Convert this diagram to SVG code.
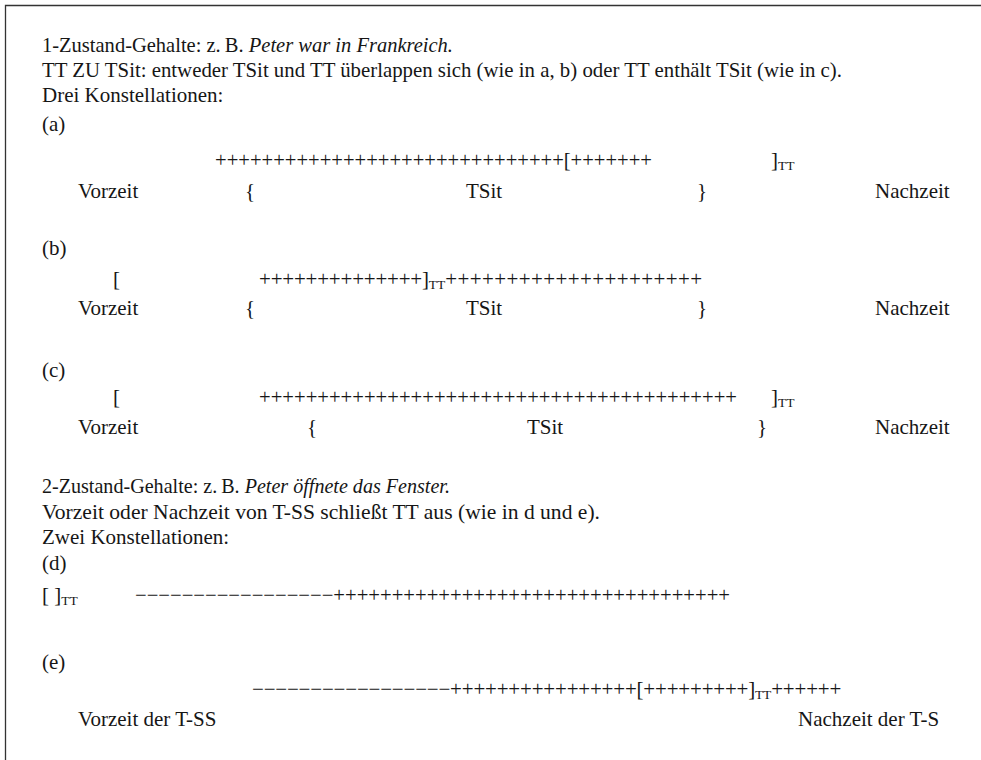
<svg xmlns="http://www.w3.org/2000/svg" width="981" height="760" viewBox="0 0 981 760">
<style>
.t{font-family:"Liberation Serif","DejaVu Serif",serif;font-size:21px;fill:#161616}
.it{font-style:italic}
.sub{font-size:13.5px}
.frame{fill:none;stroke:#333;stroke-width:1.3}
</style>
<rect width="981" height="760" fill="#fff"/>
<path class="frame" d="M5.5 760 V5.5 H981"/>
<g id="connectors"/>
<g id="header1">
<text class="t" x="42" y="52" textLength="411" lengthAdjust="spacingAndGlyphs">1-Zustand-Gehalte: z.&#8201;B. <tspan class="it">Peter war in Frankreich.</tspan></text>
<text class="t" x="42" y="77" textLength="800" lengthAdjust="spacingAndGlyphs">TT ZU TSit: entweder TSit und TT überlappen sich (wie in a, b) oder TT enthält TSit (wie in c).</text>
<text class="t" x="42" y="102">Drei Konstellationen:</text>
</g>
<g id="case-a">
<text class="t" x="42" y="131">(a)</text>
<text class="t" x="215" y="167" textLength="437" lengthAdjust="spacingAndGlyphs">++++++++++++++++++++++++++++++[+++++++</text>
<text class="t" x="771" y="167">]<tspan class="sub" dy="3">TT</tspan></text>
<text class="t" x="78" y="198">Vorzeit</text>
<text class="t" x="245" y="198">{</text>
<text class="t" x="466" y="198">TSit</text>
<text class="t" x="697" y="198">}</text>
<text class="t" x="875" y="198">Nachzeit</text>
</g>
<g id="case-b">
<text class="t" x="42" y="255">(b)</text>
<text class="t" x="113" y="286">[</text>
<text class="t" x="259" y="286"><tspan letter-spacing="-0.2">++++++++++++++]</tspan><tspan class="sub" dy="3">TT</tspan><tspan dy="-3" letter-spacing="0.4">+++++++++++++++++++++</tspan></text>
<text class="t" x="78" y="315">Vorzeit</text>
<text class="t" x="245" y="315">{</text>
<text class="t" x="466" y="315">TSit</text>
<text class="t" x="697" y="315">}</text>
<text class="t" x="875" y="315">Nachzeit</text>
</g>
<g id="case-c">
<text class="t" x="42" y="377">(c)</text>
<text class="t" x="113" y="404">[</text>
<text class="t" x="259" y="404" textLength="478" lengthAdjust="spacingAndGlyphs">+++++++++++++++++++++++++++++++++++++++++</text>
<text class="t" x="771" y="404">]<tspan class="sub" dy="3">TT</tspan></text>
<text class="t" x="78" y="434">Vorzeit</text>
<text class="t" x="307" y="434">{</text>
<text class="t" x="527" y="434">TSit</text>
<text class="t" x="757" y="434">}</text>
<text class="t" x="875" y="434">Nachzeit</text>
</g>
<g id="header2">
<text class="t" x="42" y="493" textLength="408" lengthAdjust="spacingAndGlyphs">2-Zustand-Gehalte: z.&#8201;B. <tspan class="it">Peter öffnete das Fenster.</tspan></text>
<text class="t" x="42" y="519" textLength="558" lengthAdjust="spacingAndGlyphs">Vorzeit oder Nachzeit von T-SS schließt TT aus (wie in d und e).</text>
<text class="t" x="42" y="544">Zwei Konstellationen:</text>
</g>
<g id="case-d">
<text class="t" x="42" y="570">(d)</text>
<text class="t" x="42" y="602">[ ]<tspan class="sub" dy="3">TT</tspan></text>
<text class="t" x="135" y="602" textLength="595" lengthAdjust="spacingAndGlyphs">−−−−−−−−−−−−−−−−−++++++++++++++++++++++++++++++++++</text>
</g>
<g id="case-e">
<text class="t" x="42" y="669">(e)</text>
<text class="t" x="252" y="696" letter-spacing="-0.19">−−−−−−−−−−−−−−−−−++++++++++++++++[+++++++++]<tspan class="sub" dy="3">TT</tspan><tspan dy="-3">++++++</tspan></text>
<text class="t" x="78" y="726">Vorzeit der T-SS</text>
<text class="t" x="798" y="726">Nachzeit der T-S</text>
</g>
</svg>
